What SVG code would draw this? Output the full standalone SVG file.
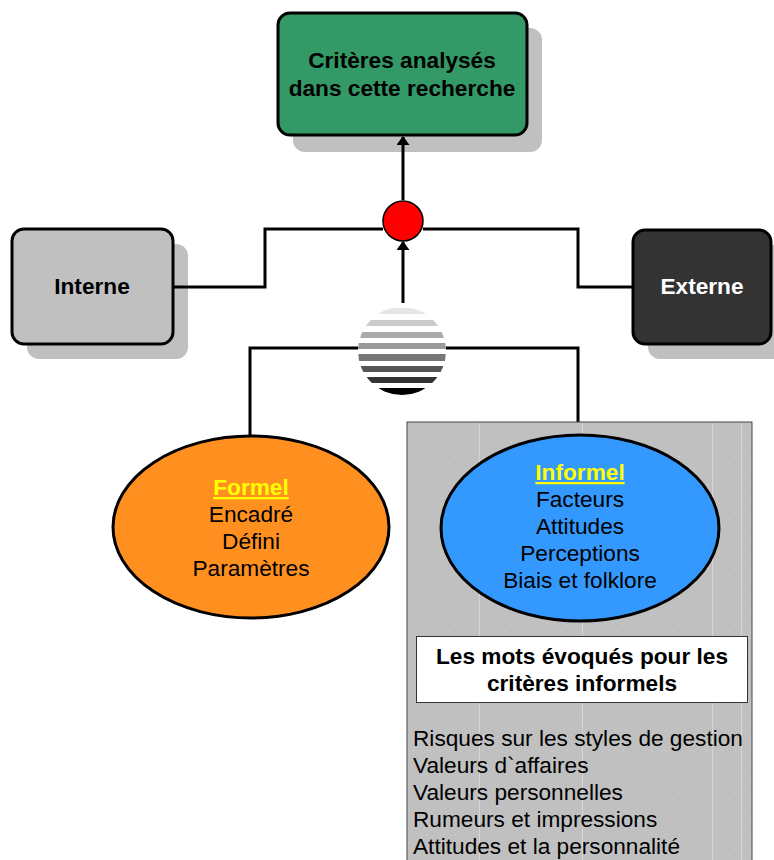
<svg xmlns="http://www.w3.org/2000/svg" width="774" height="860" viewBox="0 0 774 860">
<style>
text{font-family:"Liberation Sans",Arial,sans-serif;font-size:22.67px;}
.b{font-weight:bold;}
.box{stroke:#000;stroke-width:3;}
.sh{fill:#C0C0C0;}
.ln{fill:none;stroke:#000;stroke-width:3;}
</style>
<defs>
<marker id="ah" markerWidth="9" markerHeight="13" refX="8" refY="6.5" orient="auto" markerUnits="userSpaceOnUse" viewBox="0 0 9 13">
<path d="M0,0 L9,6.5 L0,13 Z" fill="#000"/>
</marker>
<pattern id="dots" width="14" height="14" patternUnits="userSpaceOnUse" x="407" y="422">
<rect width="14" height="14" fill="#C0C0C0"/>
<rect x="6" y="6" width="1" height="1" fill="#D8D8D8"/>
</pattern>
<clipPath id="ball"><circle cx="402" cy="351" r="44"/></clipPath>
</defs>

<g id="criteres">
<rect class="sh" x="293" y="28" width="249" height="124" rx="12"/>
<rect class="box" x="278" y="13" width="249" height="122" rx="12" fill="#339966"/>
<text class="b" x="402" y="68" text-anchor="middle">Critères analysés</text>
<text class="b" x="402" y="96" text-anchor="middle">dans cette recherche</text>
</g>

<g id="interne">
<rect class="sh" x="27" y="244" width="161" height="115" rx="12"/>
<rect class="box" x="12" y="229" width="161" height="115" rx="12" fill="#C0C0C0"/>
<text class="b" x="92" y="294" text-anchor="middle">Interne</text>
</g>

<g id="externe">
<rect class="sh" x="648" y="245" width="138" height="114" rx="12"/>
<rect class="box" x="633" y="230" width="138" height="114" rx="12" fill="#333333"/>
<text class="b" x="702" y="294" text-anchor="middle" fill="#fff">Externe</text>
</g>

<g id="connectors">
<path class="ln" d="M173,287 H265 V229 H383"/>
<path class="ln" d="M423,229 H578 V287 H633"/>
<path class="ln" d="M250,437 V348 H578 V422"/>
<line class="ln" x1="403" y1="303" x2="403" y2="242" marker-end="url(#ah)"/>
<line class="ln" x1="403" y1="200" x2="403" y2="137" marker-end="url(#ah)"/>
</g>

<g id="jonction">
<circle cx="403" cy="221" r="20" fill="#FF0000" stroke="#000" stroke-width="1.5"/>
</g>

<g id="sphere">
<circle cx="402" cy="351" r="44" fill="#fff"/>
<g clip-path="url(#ball)">
<rect x="356" y="308" width="92" height="6" fill="#E6E6E6"/>
<rect x="356" y="320" width="92" height="6" fill="#CCCCCC"/>
<rect x="356" y="332" width="92" height="6" fill="#AAAAAA"/>
<rect x="356" y="343" width="92" height="6" fill="#999999"/>
<rect x="356" y="354" width="92" height="7" fill="#777777"/>
<rect x="356" y="366" width="92" height="6" fill="#555555"/>
<rect x="356" y="377" width="92" height="6" fill="#333333"/>
<rect x="356" y="388" width="92" height="7" fill="#000000"/>
</g>
</g>

<g id="panel">
<rect x="407" y="422" width="345" height="445" fill="url(#dots)" stroke="#444" stroke-width="1"/>
<g stroke="#D6D6D6" stroke-width="1">
<line x1="479.5" y1="423" x2="479.5" y2="860"/>
<line x1="582.5" y1="423" x2="582.5" y2="860"/>
<line x1="712.5" y1="423" x2="712.5" y2="860"/>
<line x1="741.5" y1="423" x2="741.5" y2="860"/>
</g>
</g>

<g id="formel">
<ellipse cx="251" cy="527" rx="138" ry="91" fill="#FF9020" stroke="#000" stroke-width="3"/>
<text class="b" x="251" y="495" text-anchor="middle" fill="#FFFF00" text-decoration="underline">Formel</text>
<text x="251" y="522" text-anchor="middle">Encadré</text>
<text x="251" y="549" text-anchor="middle">Défini</text>
<text x="251" y="576" text-anchor="middle">Paramètres</text>
</g>

<g id="informel">
<ellipse cx="580" cy="528" rx="139" ry="93" fill="#3399FF" stroke="#000" stroke-width="3"/>
<text class="b" x="580" y="480" text-anchor="middle" fill="#FFFF00" text-decoration="underline">Informel</text>
<text x="580" y="507" text-anchor="middle">Facteurs</text>
<text x="580" y="534" text-anchor="middle">Attitudes</text>
<text x="580" y="561" text-anchor="middle">Perceptions</text>
<text x="580" y="588" text-anchor="middle">Biais et folklore</text>
</g>

<g id="mots">
<rect x="416.5" y="636.5" width="331" height="66" fill="#fff" stroke="#333" stroke-width="1"/>
<text class="b" x="582" y="664" text-anchor="middle">Les mots évoqués pour les</text>
<text class="b" x="582" y="691" text-anchor="middle">critères informels</text>
</g>

<g id="liste">
<text x="413" y="746">Risques sur les styles de gestion</text>
<text x="413" y="773">Valeurs d`affaires</text>
<text x="413" y="800">Valeurs personnelles</text>
<text x="413" y="827">Rumeurs et impressions</text>
<text x="413" y="854">Attitudes et la personnalité</text>
</g>
</svg>
